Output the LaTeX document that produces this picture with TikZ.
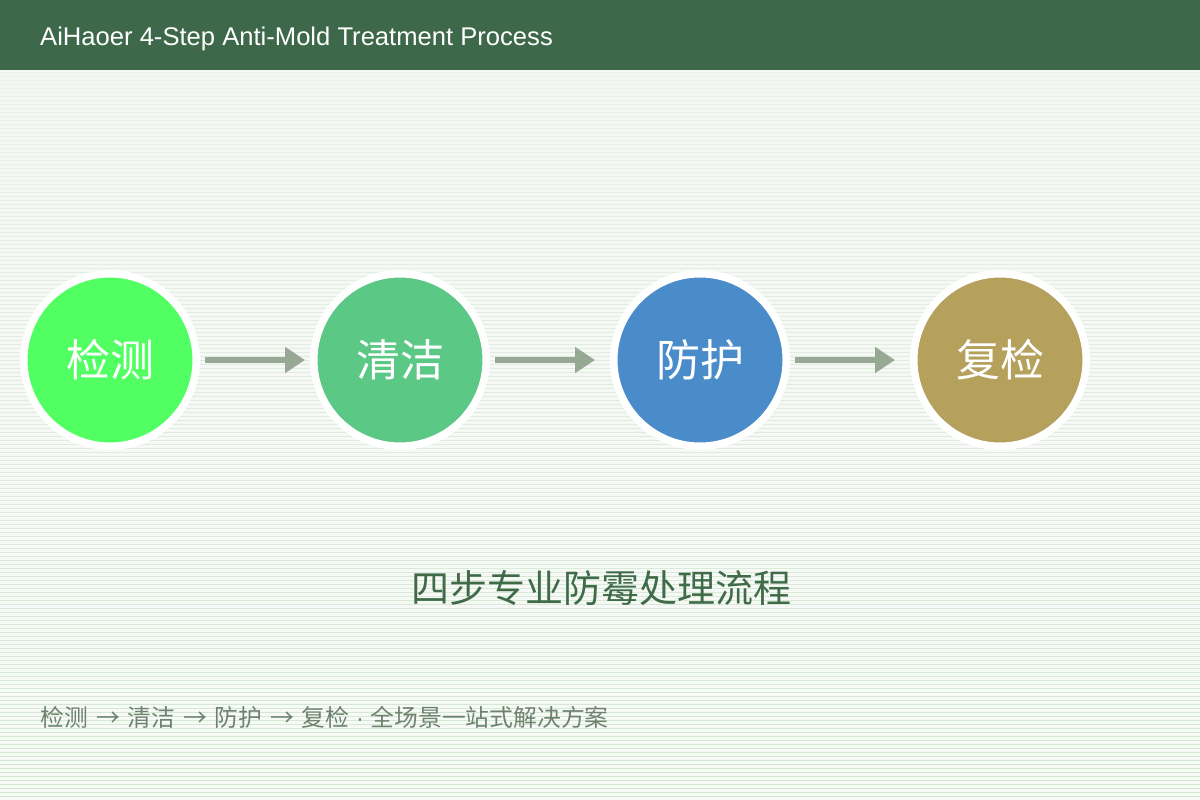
\documentclass[tikz,border=0pt]{standalone}
\usepackage{fontspec}
\setmainfont{Liberation Sans}
\newfontfamily\cjk{Noto Sans CJK SC}
\usetikzlibrary{arrows.meta}
\definecolor{headerc}{HTML}{3D6849}
\definecolor{bgtop}{HTML}{F5F7F4}
\definecolor{bgbot}{HTML}{F8FAF7}
\definecolor{stripeT}{HTML}{EBF0EA}
\definecolor{stripeB}{HTML}{D2E7D0}
\definecolor{cA}{HTML}{52FF63}
\definecolor{cB}{HTML}{5CC886}
\definecolor{cC}{HTML}{4A8BC9}
\definecolor{cD}{HTML}{B5A05C}
\definecolor{arrowc}{HTML}{97A994}
\definecolor{tagc}{HTML}{3F6B48}
\definecolor{subc}{HTML}{6E826E}
\newcommand\myarr{\hspace{2.5pt} → \hspace{2.5pt}}
\newcommand\mydot{{\rmfamily\ ·\ }}
\tikzset{
  stepcircle/.style={circle, draw=white, line width=7.5pt, minimum size=172.5pt, inner sep=0pt,
    text=white, font=\cjk\fontsize{44}{50}\selectfont},
  flow/.style={draw=arrowc, line width=6pt, -{Triangle[length=20pt,width=25pt]}},
  stripe/.style={line width=1.5pt}
}
\begin{document}
\begin{tikzpicture}[x=1pt,y=-1pt]
\useasboundingbox (0,0) rectangle (1200,800);
\shade[top color=bgtop, bottom color=bgbot] (0,70) rectangle (1200,800);
\foreach \i in {0,...,182}{
  \pgfmathtruncatemacro\p{\i/1.82}
  \draw[stripe, stripeB!\p!stripeT] (0,72.5+4*\i) -- (1200,72.5+4*\i);
}
\fill[headerc] (0,0) rectangle (1200,70.5);
\node[anchor=base west, inner sep=0pt, text=white, font=\fontsize{25.6}{30}\selectfont] (title) at (40,45.5) {AiHaoer 4-Step Anti-Mold Treatment Process};
\node[stepcircle, fill=cA] (s1) at (110,360) {检测};
\node[stepcircle, fill=cB] (s2) at (400,360) {清洁};
\node[stepcircle, fill=cC] (s3) at (700,360) {防护};
\node[stepcircle, fill=cD] (s4) at (1000,360) {复检};
\draw[flow, shorten <=5pt, shorten >=5pt] (s1) -- (s2);
\draw[flow, shorten <=5pt, shorten >=15pt] (s2) -- (s3);
\draw[flow, shorten <=5pt, shorten >=15pt] (s3) -- (s4);
\node[text=tagc, font=\cjk\fontsize{38}{44}\selectfont] (tag) at (601,588) {四步专业防霉处理流程};
\node[anchor=west, inner sep=0pt, text=subc, font=\cjk\fontsize{23.8}{28}\selectfont] (sub) at (40.5,717) {检测\myarr 清洁\myarr 防护\myarr 复检\mydot 全场景一站式解决方案};
\end{tikzpicture}
\end{document}
